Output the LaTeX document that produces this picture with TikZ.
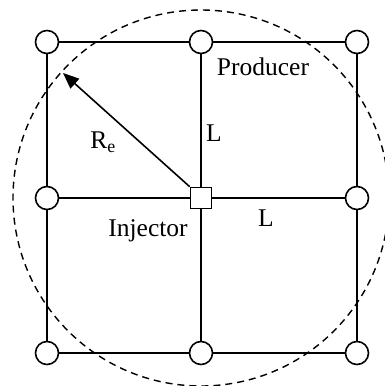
\documentclass[tikz,border=0pt]{standalone}
\usepackage{fontspec}
\setmainfont{Liberation Serif}
\usetikzlibrary{arrows.meta}
\begin{document}
\begin{tikzpicture}[x=1pt,y=-1pt,
  well/.style={circle,draw,line width=1.6pt,fill=white,minimum size=23pt,inner sep=0pt},
  inj/.style={rectangle,draw,line width=1.6pt,fill=white,minimum size=21pt,inner sep=0pt},
  grid/.style={line width=1.6pt},
  lbl/.style={font=\fontsize{25.5}{28}\selectfont,inner sep=0pt}]
\useasboundingbox (0,0) rectangle (384,386);
\coordinate (c) at (201,198);
\draw[dashed,line width=1.4pt,dash pattern=on 7pt off 5pt] (c) circle (188);
\coordinate (p11) at (47,42); \coordinate (p12) at (201,42); \coordinate (p13) at (357,42);
\coordinate (p21) at (47,198); \coordinate (p23) at (357,198);
\coordinate (p31) at (47,353); \coordinate (p32) at (201,353); \coordinate (p33) at (357,353);
\draw[grid] (p11) -- (p13) -- (p33) -- (p31) -- cycle;
\draw[grid] (p12) -- (p32);
\draw[grid] (p21) -- (p23);
\node[well] (w11) at (p11) {};
\node[well] (w12) at (p12) {};
\node[well] (w13) at (p13) {};
\node[well] (w21) at (p21) {};
\node[well] (w23) at (p23) {};
\node[well] (w31) at (p31) {};
\node[well] (w32) at (p32) {};
\node[well] (w33) at (p33) {};
\node[inj] (inj) at (c) {};
\coordinate (tip) at (63,73);
\draw[line width=1.6pt,-{Triangle[length=16pt,width=13pt]}] (inj.north west) -- (tip);
\node[lbl] (prod) at (263,67) {Producer};
\node[lbl] (L1) at (214,133) {L};
\node[lbl] (Re) at (103,142) {R\textsubscript{e}};
\node[lbl] (injl) at (148,231) {Injector};
\node[lbl] (L2) at (266,218) {L};
\end{tikzpicture}
\end{document}
